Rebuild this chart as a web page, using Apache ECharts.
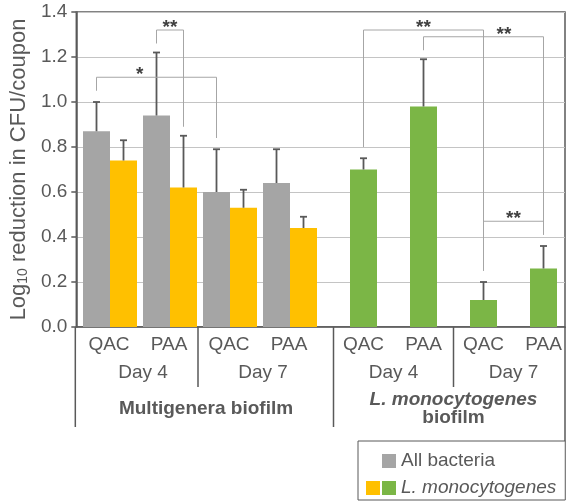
<!DOCTYPE html>
<html>
<head>
<meta charset="utf-8">
<script src="https://cdn.jsdelivr.net/npm/echarts@6/dist/echarts.min.js"></script>
<style>html,body{margin:0;padding:0;background:#fff}#c{width:567px;height:502px}</style>
</head>
<body>
<div id="c"></div>
<script>
// ---- data ----
const treatments = ['QAC', 'PAA', 'QAC', 'PAA', 'QAC', 'PAA', 'QAC', 'PAA'];
const days = ['Day 4', 'Day 7', 'Day 4', 'Day 7'];
const biofilms = ['Multigenera biofilm', 'L. monocytogenes', 'biofilm'];
const allBacteria = [0.87, 0.94, 0.60, 0.64, null, null, null, null];
const allBacteriaErr = [0.13, 0.28, 0.19, 0.15, null, null, null, null];
const lmono = [0.74, 0.62, 0.53, 0.44, 0.70, 0.98, 0.12, 0.26];
const lmonoErr = [0.09, 0.23, 0.08, 0.05, 0.05, 0.21, 0.08, 0.10];
const yTicks = [0, 0.2, 0.4, 0.6, 0.8, 1.0, 1.2, 1.4];
// significance brackets: [category, slot(0 = all bacteria, 1 = L. mono), leg bottom value]
const brackets = [
  { label: '*',  from: [0, 0, 1.05], to: [2, 0, 0.84], top: 1.11, at: 0.36 },
  { label: '**', from: [1, 0, 1.26], to: [1, 1, 0.89], top: 1.32, at: 0.5 },
  { label: '**', from: [4, 1, 0.80], to: [6, 1, 0.25], top: 1.32, at: 0.5 },
  { label: '**', from: [5, 1, 1.23], to: [7, 1, 0.41], top: 1.29, at: 0.67 },
  { label: '**', from: [6, 1, 0.25], to: [7, 1, 0.41], top: 0.47, at: 0.5 }
];

// ---- styles ----
const FONT = 'Liberation Sans, Arial, sans-serif';
const TXT = '#595959';
const GRAY = '#a5a5a5', YELLOW = '#ffc000', GREEN = '#7bb646';

const chart = echarts.init(document.getElementById('c'), null, { renderer: 'canvas' });

function slotX(api, cat, slot) {
  const c = api.coord([cat, 0])[0];
  const band = api.size([1, 0])[0];
  return c + (slot === 0 ? -0.225 : 0.225) * band;
}

function errRender(slot, errs) {
  return function (params, api) {
    const cat = api.value(0), val = api.value(1), err = errs[params.dataIndex];
    if (val == null || isNaN(val) || err == null) return null;
    const x = slotX(api, cat, slot);
    const y0 = api.coord([cat, val])[1];
    const y1 = api.coord([cat, val + err])[1];
    const st = { stroke: '#595959', lineWidth: 1.8 };
    return { type: 'group', children: [
      { type: 'line', shape: { x1: x, y1: y0, x2: x, y2: y1 }, style: st },
      { type: 'line', shape: { x1: x - 3.5, y1: y1, x2: x + 3.5, y2: y1 }, style: st }
    ]};
  };
}

function bracketRender(params, api) {
  const b = brackets[params.dataIndex];
  const x1 = slotX(api, b.from[0], b.from[1]);
  const x2 = slotX(api, b.to[0], b.to[1]);
  const yT = api.coord([0, b.top])[1];
  const yA = api.coord([0, b.from[2]])[1];
  const yB = api.coord([0, b.to[2]])[1];
  return { type: 'group', children: [
    { type: 'polyline', shape: { points: [[x1, yA], [x1, yT], [x2, yT], [x2, yB]] },
      style: { stroke: '#a6a6a6', lineWidth: 1, fill: null } },
    { type: 'text', x: x1 + (x2 - x1) * b.at, y: yT - 2,
      style: { text: b.label, fill: '#404040', font: 'bold 19px ' + FONT, align: 'center', verticalAlign: 'middle' } }
  ]};
}

const option = {
  animation: false,
  textStyle: { fontFamily: FONT },
  grid: [
    { left: 80, right: 7, top: 12, bottom: 175 },
    { left: 76, right: 2, top: 12, bottom: 175, show: true, borderColor: '#595959', borderWidth: 1.5, backgroundColor: 'transparent' }
  ],
  xAxis: [
    { type: 'category', gridIndex: 0, data: treatments, show: false },
    { type: 'value', gridIndex: 1, min: 0, max: 1, show: true,
      axisLine: { show: true, lineStyle: { color: '#595959', width: 1.5 } },
      axisTick: { show: false }, axisLabel: { show: false }, splitLine: { show: false } }
  ],
  yAxis: [
    { type: 'value', gridIndex: 0, min: 0, max: 1.4, interval: 0.2, show: false },
    { type: 'value', gridIndex: 1, min: 0, max: 1.4, interval: 0.2,
      axisLine: { show: true, lineStyle: { color: '#595959', width: 1.5 } },
      axisTick: { show: true, inside: false, length: 5, lineStyle: { color: '#595959', width: 1.5 } },
      axisLabel: { fontSize: 19, color: TXT, margin: 9, fontFamily: FONT,
        formatter: v => yTicks.includes(Math.round(v * 10) / 10) ? v.toFixed(1) : '' },
      splitLine: { show: true, lineStyle: { color: '#c4c4c4', width: 1 } },
      name: '{a|Log}{s|10}{a| reduction in CFU/coupon}',
      nameLocation: 'middle', nameRotate: 90, nameGap: 44,
      nameTextStyle: { color: TXT, fontFamily: FONT,
        rich: {
          a: { fontSize: 22, color: TXT, fontFamily: FONT, verticalAlign: 'bottom', lineHeight: 26 },
          s: { fontSize: 14, color: TXT, fontFamily: FONT, verticalAlign: 'bottom', lineHeight: 26 }
        } }
    }
  ],
  legend: {
    orient: 'vertical', left: 358, top: 441,
    padding: [10, 9, 2, 24], itemGap: 7,
    itemWidth: 14, itemHeight: 14,
    borderColor: '#595959', borderWidth: 1,
    data: [{ name: 'All bacteria', icon: 'rect' }, { name: 'L. monocytogenes', icon: 'rect' }],
    formatter: n => n === 'L. monocytogenes' ? '{i|' + n + '}' : '{n|' + n + '}',
    textStyle: { fontSize: 19, color: TXT, fontFamily: FONT, lineHeight: 20,
      rich: { i: { fontStyle: 'italic', fontSize: 19, color: TXT, fontFamily: FONT, lineHeight: 20 },
              n: { fontSize: 19, color: TXT, fontFamily: FONT, lineHeight: 20 } } }
  },
  series: [
    { name: 'All bacteria', type: 'bar', xAxisIndex: 0, yAxisIndex: 0,
      data: allBacteria.map(v => v == null ? '-' : v),
      barGap: '0%', barCategoryGap: '10%', itemStyle: { color: GRAY } },
    { name: 'L. monocytogenes', type: 'bar', xAxisIndex: 0, yAxisIndex: 0,
      data: lmono.map((v, i) => ({ value: v, itemStyle: { color: i < 4 ? YELLOW : GREEN } })),
      barGap: '0%', barCategoryGap: '10%', itemStyle: { color: GREEN } },
    { type: 'custom', name: 'errAll', xAxisIndex: 0, yAxisIndex: 0, z: 5, silent: true,
      renderItem: errRender(0, allBacteriaErr),
      data: allBacteria.map((v, i) => [i, v == null ? NaN : v]) },
    { type: 'custom', name: 'errL', xAxisIndex: 0, yAxisIndex: 0, z: 5, silent: true,
      renderItem: errRender(1, lmonoErr),
      data: lmono.map((v, i) => [i, v]) },
    { type: 'custom', name: 'brackets', xAxisIndex: 0, yAxisIndex: 0, z: 6, silent: true, clip: false,
      renderItem: bracketRender,
      data: brackets.map(b => [b.from[0], b.top]) }
  ]
};
chart.setOption(option);

// ---- lower hierarchical category labels ----
const px = i => chart.convertToPixel({ xAxisIndex: 0 }, i);
const band = px(1) - px(0);
const yBase = chart.convertToPixel({ yAxisIndex: 0 }, 0);
const labelX = treatments.map((t, i) => i < 4 ? px(i) - 1 : px(i) + 0.225 * band);
const g = [];
const txt = (x, y, s, extra) => g.push({ type: 'text', x: x, y: y, silent: true,
  style: Object.assign({ text: s, fill: TXT, font: '19px ' + FONT, align: 'center', verticalAlign: 'middle' }, extra || {}) });
const vline = (x, y2) => g.push({ type: 'line', silent: true, shape: { x1: x, y1: yBase, x2: x, y2: y2 }, style: { stroke: '#595959', lineWidth: 1.5 } });

treatments.forEach((t, i) => txt(labelX[i], yBase + 18, t));
days.forEach((d, k) => txt((labelX[2 * k] + labelX[2 * k + 1]) / 2 + (k < 2 ? 4 : 0), yBase + 46, d));
txt((labelX[0] + labelX[3]) / 2 + 7, yBase + 82, biofilms[0], { font: 'bold 19px ' + FONT });
txt((labelX[4] + labelX[7]) / 2, yBase + 73, biofilms[1], { font: 'italic bold 19px ' + FONT });
txt((labelX[4] + labelX[7]) / 2, yBase + 91, biofilms[2], { font: 'bold 19px ' + FONT });

const leftX = chart.convertToPixel({ xAxisIndex: 1 }, 0);
const rightX = chart.convertToPixel({ xAxisIndex: 1 }, 1);
vline(leftX - 1, yBase + 100);
vline((px(1) + px(2)) / 2 - 2, yBase + 60);
vline(((px(3) + 0.45 * band) + (px(4))) / 2, yBase + 100);
vline((px(5) + px(6)) / 2 + 0.225 * band, yBase + 60);
vline(rightX, 441);
g.push({ type: 'rect', silent: true, shape: { x: 366, y: 481, width: 14, height: 14 }, style: { fill: YELLOW } });
chart.setOption({ graphic: g });
</script>
</body>
</html>
